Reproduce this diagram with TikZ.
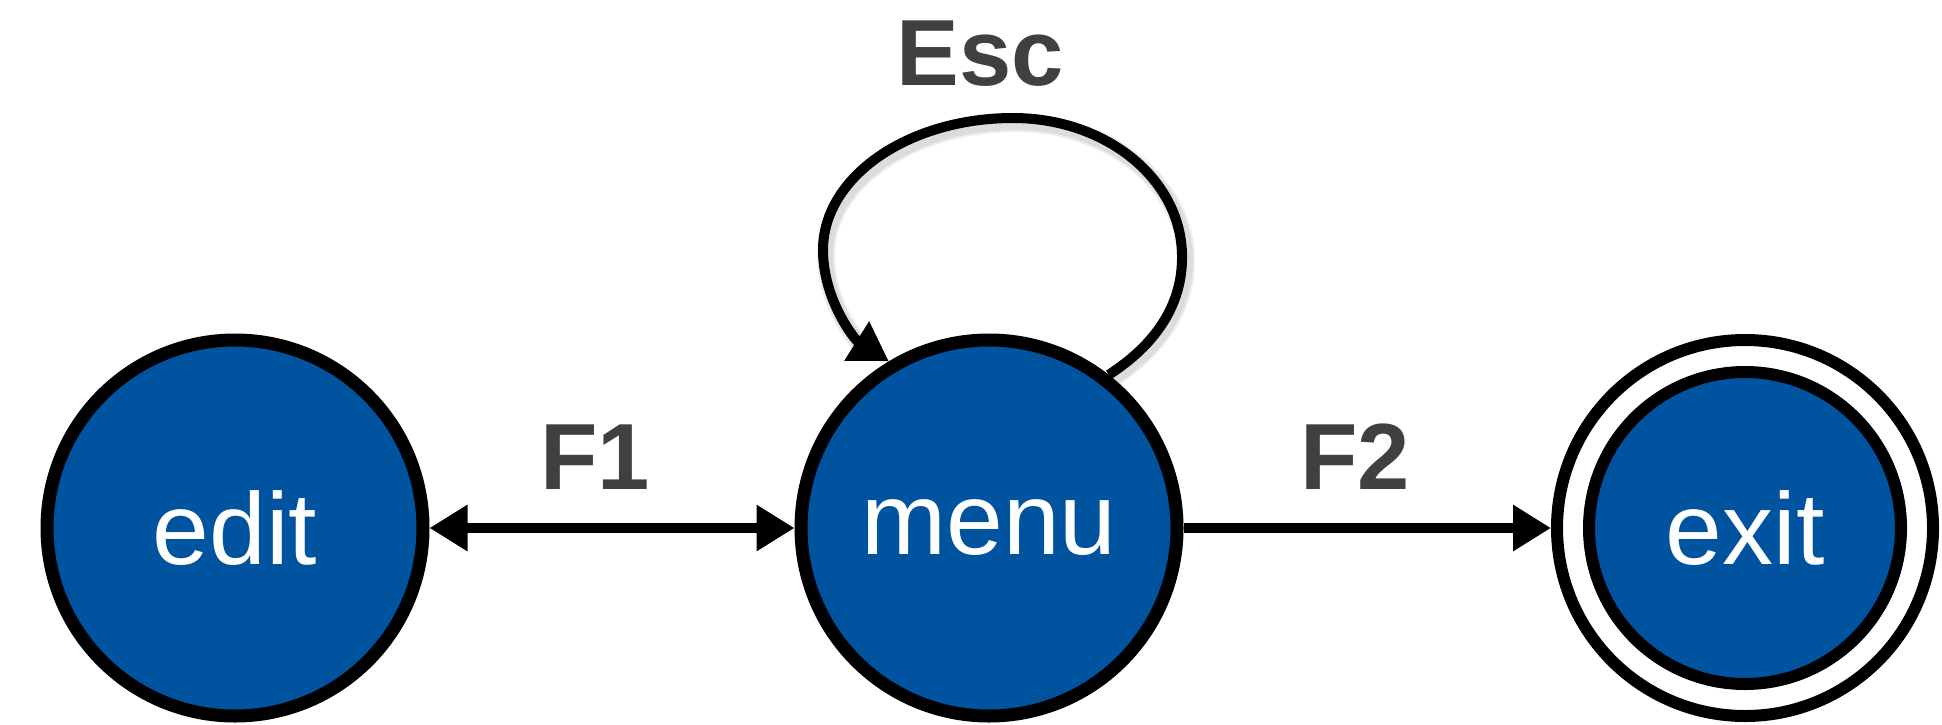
\documentclass[tikz,border=0pt]{standalone}
\usepackage{fontspec}
\setmainfont{Liberation Sans}
\usetikzlibrary{arrows.meta}
\definecolor{stateblue}{RGB}{0,83,159}
\definecolor{labelgray}{RGB}{64,64,64}
\begin{document}
\begin{tikzpicture}[x=0.5pt,y=-0.5pt,
  state/.style={circle, draw=black, fill=stateblue, line width=6.5pt, minimum size=188pt, inner sep=0pt, text=white, font=\fontsize{51}{60}\selectfont},
  acceptinner/.style={circle, draw=black, fill=stateblue, line width=6pt, minimum size=156pt, inner sep=0pt, text=white, font=\fontsize{51}{60}\selectfont},
  acceptouter/.style={circle, draw=black, line width=6pt, minimum size=188pt, inner sep=0pt},
  conn/.style={line width=5pt, -{Triangle[length=19pt,width=22pt]}},
  lbl/.style={text=labelgray, font=\bfseries\fontsize{47}{56}\selectfont, anchor=base, inner sep=0pt},
  shadowline/.style={draw=black, opacity=0.07}
]
\useasboundingbox (0,0) rectangle (1942,724);
\node[state] (edit) at (235,528) {edit};
\node[state] (menu) at (989,528) {menu};
\node[acceptouter] (exitouter) at (1745,528) {};
\node[acceptinner] (exit) at (1745,528) {exit};

\draw[line width=5pt, {Triangle[length=19pt,width=22pt]}-{Triangle[length=19pt,width=22pt]}] (edit) -- (menu);
\draw[conn] (menu) -- (exitouter);

% soft shadow of the loop
\foreach \w in {9pt,7pt}{
\draw[shadowline, line width=\w] ([shift={(2,5)}]menu.52) .. controls (1157,350) and (1186,310) .. (1186,260)
  .. controls (1186,184) and (1109,123) .. (1016,123)
  .. controls (911,123) and (826,182) .. (826,255)
  .. controls (826,300) and (850,335) .. (870,355);
}
\draw[conn] (menu.52) .. controls (1155,345) and (1183,305) .. (1182,255)
  .. controls (1181,179) and (1106,118) .. (1013,118)
  .. controls (908,118) and (823,177) .. (823,250)
  .. controls (823,300) and (855,340) .. (menu.121);

\node[lbl] (f1) at (595,489) {F1};
\node[lbl] (f2) at (1355,489) {F2};
\node[lbl] (esc) at (980,85) {Esc};
\end{tikzpicture}
\end{document}
